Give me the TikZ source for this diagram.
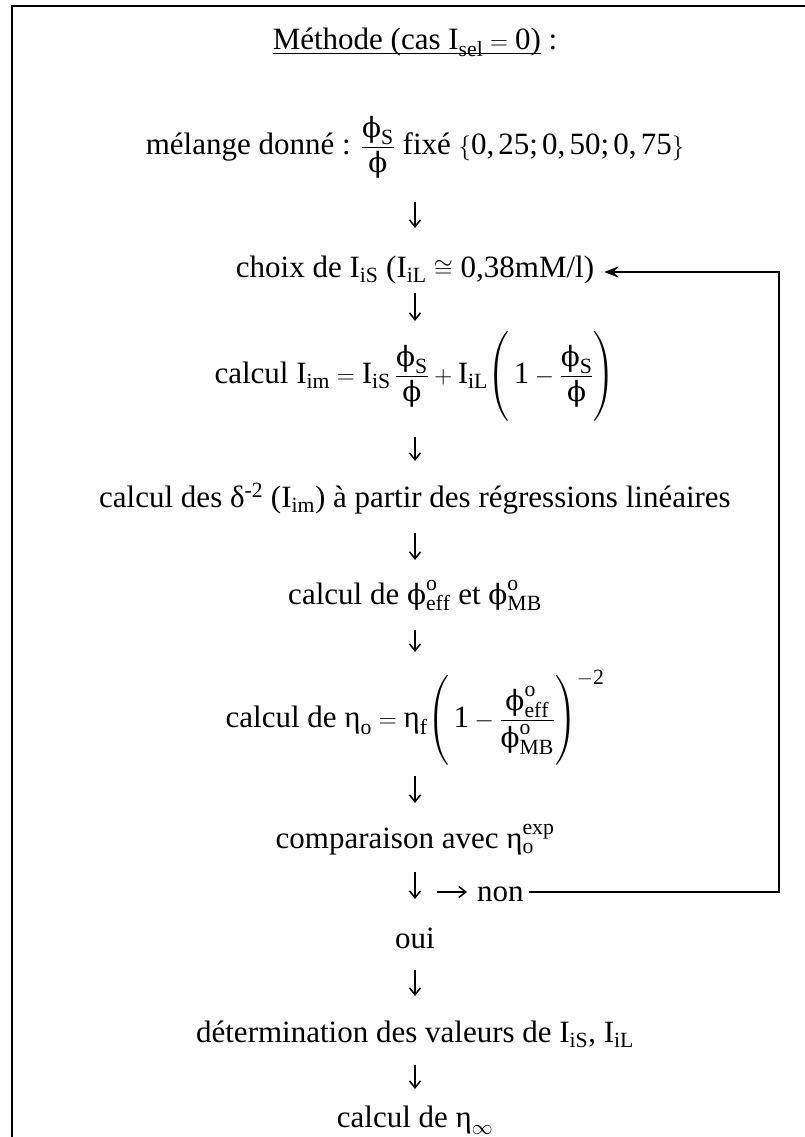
\documentclass[tikz,border=0pt]{standalone}
\usepackage{amsmath}
\usepackage{fontspec}
\setmainfont{Liberation Serif}
\newfontfamily\grkfont{DejaVu Serif}[Scale=0.9]
\usetikzlibrary{arrows.meta}
\newcommand\Ph{\textnormal{\grkfont ϕ}}
\newcommand\Et{\textnormal{η}}
\newcommand\Dl{\textnormal{δ}}
\newcommand\Ir{\mathrm{I}}
\newcommand\cmm{\mathpunct{\textnormal{,}}}
\newcommand\smc{\mathpunct{\textnormal{;}}}
\newcommand\tallstrut{\vrule height 42pt depth 34pt width 0pt}
\tikzset{
  txt/.style={inner sep=0pt, anchor=base, font=\fontsize{31}{37}\selectfont},
  arr/.style={line width=1.5pt, -{Straight Barb[length=7pt,width=11pt,line width=1.5pt]}},
  fb/.style={line width=2pt, -{Stealth[length=14pt,width=11pt]}},
  frame/.style={line width=2.5pt}
}
\begin{document}
\begin{tikzpicture}[x=1pt,y=-1pt]
\useasboundingbox (0,0) rectangle (805,1137);
\draw[frame] (805,6) -- (12,6) -- (12,1137);
\node[txt] (title) at (415,50) {\underline{\smash{Méthode (cas $\Ir_{\mathrm{sel}}=\mathrm{0}$)}} :};
\node[txt] (mel) at (415,154) {mélange donné : $\dfrac{\Ph_{\mathrm{S}}}{\Ph}$ fixé $\{\mathrm{0}\cmm\mathrm{25}\smc\mathrm{0}\cmm\mathrm{50}\smc\mathrm{0}\cmm\mathrm{75}\}$};
\node[txt] (choix) at (415,277) {choix de $\Ir_{\mathrm{iS}}$ ($\Ir_{\mathrm{iL}}\cong$ 0,38mM/l)};
\node[txt] (im) at (415,383) {calcul $\Ir_{\mathrm{im}}=\Ir_{\mathrm{iS}}\,\dfrac{\Ph_{\mathrm{S}}}{\Ph}+\Ir_{\mathrm{iL}}\!\left(\tallstrut\,\mathrm{1}-\dfrac{\Ph_{\mathrm{S}}}{\Ph}\right)$};
\node[txt] (delta) at (415,507) {calcul des \Dl\textsuperscript{-2} (I\textsubscript{im}) à partir des régressions linéaires};
\node[txt] (phi) at (415,604) {calcul de $\Ph^{\mathrm{o}}_{\mathrm{eff}}$ et $\Ph^{\mathrm{o}}_{\mathrm{MB}}$};
\node[txt] (eta) at (415,727) {calcul de $\Et_{\mathrm{o}}=\Et_{\mathrm{f}}\!\left(\tallstrut\,\mathrm{1}-\dfrac{\Ph^{\mathrm{o}}_{\mathrm{eff}}}{\Ph^{\mathrm{o}}_{\mathrm{MB}}}\right)^{-\mathrm{2}}$};
\node[txt] (comp) at (415,848) {comparaison avec $\Et_{\mathrm{o}}^{\mathrm{exp}}$};
\node[txt, anchor=base west] (non) at (477,901) {non};
\node[txt] (oui) at (415,948) {oui};
\node[txt] (det) at (415,1042) {détermination des valeurs de $\Ir_{\mathrm{iS}}$, $\Ir_{\mathrm{iL}}$};
\node[txt] (inf) at (415,1127) {calcul de $\Et_{\infty}$};
\coordinate (dec) at (437,892);
\coordinate (fbB) at (779,892);
\coordinate (fbT) at (779,272);
\draw[arr] ([yshift=-48pt]mel.base) -- ([yshift=49pt]choix.base);
\draw[arr] ([yshift=-16pt]choix.base) -- ([yshift=62pt]im.base);
\draw[arr] ([yshift=-54pt]im.base) -- ([yshift=46pt]delta.base);
\draw[arr] ([yshift=-26pt]delta.base) -- ([yshift=44pt]phi.base);
\draw[arr] ([yshift=-26pt]phi.base) -- ([yshift=75pt]eta.base);
\draw[arr] ([yshift=-49pt]eta.base) -- ([yshift=45pt]comp.base);
\draw[arr] ([yshift=-24pt]comp.base) -- ([yshift=49pt]oui.base);
\draw[arr] ([yshift=-22pt]oui.base) -- ([yshift=46pt]det.base);
\draw[arr] ([yshift=-23pt]det.base) -- ([yshift=38pt]inf.base);
\draw[arr] (dec) -- ([xshift=-10pt,yshift=9pt]non.base west);
\draw[fb] ([xshift=5pt,yshift=9pt]non.base east) -- (fbB) -- (fbT) -- ([xshift=10pt,yshift=5pt]choix.base east);
\end{tikzpicture}
\end{document}
